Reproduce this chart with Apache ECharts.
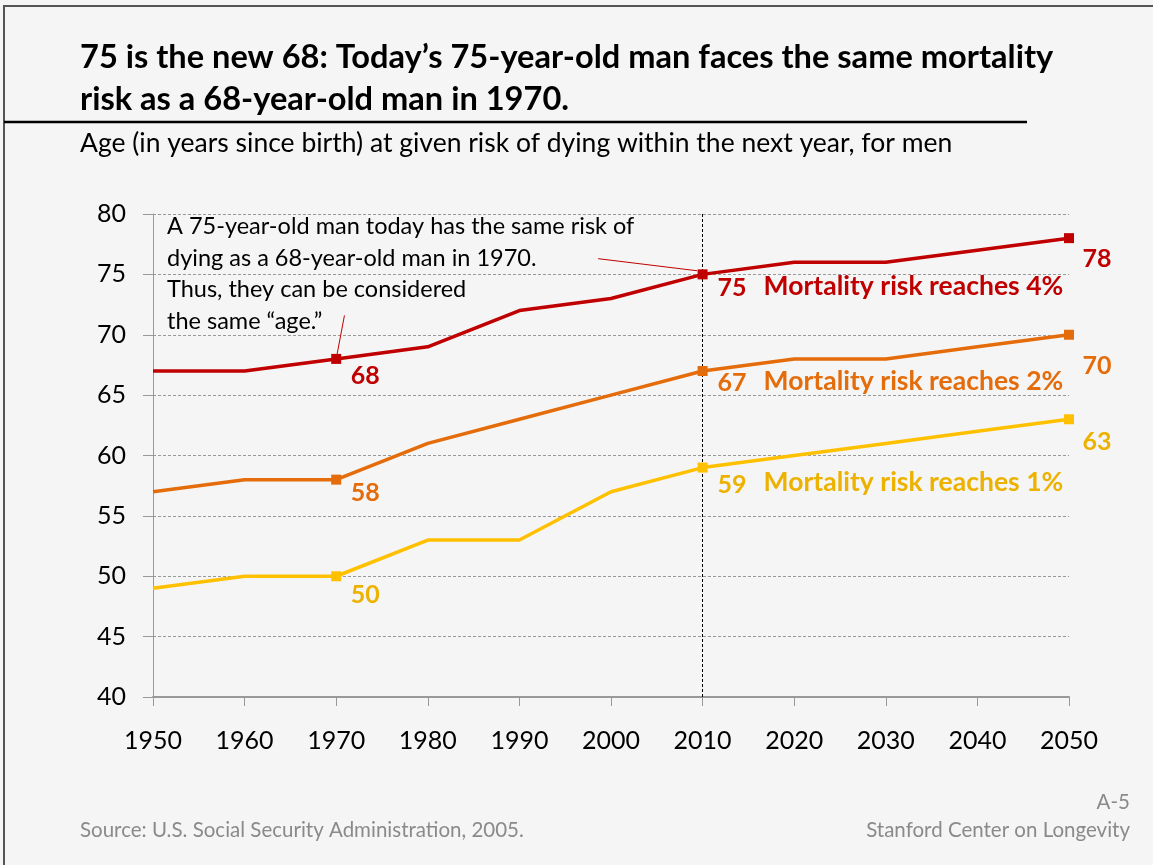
<!DOCTYPE html>
<html>
<head>
<meta charset="utf-8">
<script src="https://cdn.jsdelivr.net/npm/echarts@6/dist/echarts.min.js"></script>
<style>
  html, body { margin: 0; padding: 0; background: #f5f5f5; }
  #eChart { width: 1153px; height: 865px; }
</style>
</head>
<body>
<div id="eChart"></div>
<script>
var years = [1950, 1960, 1970, 1980, 1990, 2000, 2010, 2020, 2030, 2040, 2050];
var risk4 = [67, 67, 68, 69, 72, 73, 75, 76, 76, 77, 78];
var risk2 = [57, 58, 58, 61, 63, 65, 67, 68, 68, 69, 70];
var risk1 = [49, 50, 50, 53, 53, 57, 59, 60, 61, 62, 63];
var markedYears = [1970, 2010, 2050];
var seriesNames = ['Mortality risk reaches 4%', 'Mortality risk reaches 2%', 'Mortality risk reaches 1%'];
var noteLines = [
  'A 75-year-old man today has the same risk of',
  'dying as a 68-year-old man in 1970.',
  'Thus, they can be considered',
  'the same \u201cage.\u201d'
];
// pointer lines from the note, in data coordinates [year, age]
var pointerLines = [
  [[1998.6, 76.3], [2009.4, 75.3]],
  [[1970.9, 71.6], [1970.1, 68.4]]
];

var FONT = 'Lato, "Open Sans", sans-serif';
var lineColors = ['#C00000', '#E46C0A', '#FFC000'];
var textColors = ['#C00000', '#E46C0A', '#EDB200'];
// label offsets for the marked points: 1970, 2010, 2050
var labelOffsets = [
  [[29, 17], [5, 12], [28, 21]],
  [[29, 13], [5, 10], [28, 31]],
  [[29, 19], [5, 15], [28, 23]]
];

function buildData(values, s) {
  return years.map(function (yr, i) {
    var k = markedYears.indexOf(yr);
    if (k < 0) {
      return { value: [yr, values[i]], symbolSize: 0 };
    }
    var lbl;
    if (yr === 2010) {
      lbl = {
        show: true,
        position: 'right',
        offset: labelOffsets[s][k],
        formatter: '{v|' + values[i] + '}{n|' + seriesNames[s] + '}',
        rich: {
          v: { fontFamily: FONT, fontSize: 25, fontWeight: 'bold', color: textColors[s], padding: [4, 0, 0, 0] },
          n: { fontFamily: FONT, fontSize: 26.5, fontWeight: 'bold', color: textColors[s], padding: [0, 0, 0, 17] }
        }
      };
    } else {
      lbl = {
        show: true,
        position: 'inside',
        offset: labelOffsets[s][k],
        formatter: String(values[i]),
        fontFamily: FONT,
        fontSize: 25,
        fontWeight: 'bold',
        color: textColors[s]
      };
    }
    return { value: [yr, values[i]], symbolSize: 10, label: lbl };
  });
}

function drawChart() {
  var mainChart = echarts.init(document.getElementById('eChart'));

  var allValues = [risk4, risk2, risk1];
  var series = allValues.map(function (vals, s) {
    return {
      name: seriesNames[s],
      type: 'line',
      data: buildData(vals, s),
      symbol: 'rect',
      showAllSymbol: true,
      z: 10 - s,
      animation: false,
      lineStyle: { color: lineColors[s], width: 3.5 },
      itemStyle: { color: lineColors[s] }
    };
  });

  var markData = [
    [{ xAxis: 2010, yAxis: 80, lineStyle: { color: '#000', width: 1, type: [3, 2] } }, { xAxis: 2010, yAxis: 40 }]
  ];
  pointerLines.forEach(function (p) {
    markData.push([
      { coord: p[0], lineStyle: { color: '#C00000', width: 1, type: 'solid' } },
      { coord: p[1] }
    ]);
  });
  series[0].markLine = {
    silent: true,
    symbol: 'none',
    label: { show: false },
    animation: false,
    data: markData
  };

  var option = {
    backgroundColor: '#f5f5f5',
    animation: false,
    textStyle: { fontFamily: FONT },
    title: {
      text: '75 is the new 68: Today\u2019s 75-year-old man faces the same mortality\nrisk as a 68-year-old man in 1970.',
      left: 75,
      top: 31,
      textStyle: { fontFamily: FONT, fontSize: 32.6, fontWeight: 'bold', color: '#000', lineHeight: 42 }
    },
    grid: { left: 153, right: 84, top: 214, bottom: 168 },
    xAxis: {
      type: 'value',
      min: 1950,
      max: 2050,
      interval: 10,
      axisLine: { lineStyle: { color: '#999', width: 2 } },
      axisTick: { show: true, length: 9, lineStyle: { color: '#999' } },
      axisLabel: {
        color: '#000', fontSize: 25, margin: 31, fontFamily: FONT,
        formatter: function (v) { return String(v); }
      },
      splitLine: { show: false }
    },
    yAxis: {
      type: 'value',
      min: 40,
      max: 80,
      interval: 5,
      axisLine: { show: true, lineStyle: { color: '#999', width: 1 } },
      axisTick: { show: true, length: 10, lineStyle: { color: '#999' } },
      axisLabel: { color: '#000', fontSize: 25, margin: 27, fontFamily: FONT },
      splitLine: { show: true, lineStyle: { color: '#999', type: [3, 2], width: 1 } }
    },
    graphic: [
      {
        type: 'rect',
        shape: { x: 4, y: 6, width: 1170, height: 880 },
        style: { fill: 'none', stroke: '#555', lineWidth: 2 },
        silent: true
      },
      {
        type: 'line',
        shape: { x1: 4, y1: 122, x2: 1027, y2: 122 },
        style: { stroke: '#000', lineWidth: 2.5 },
        silent: true
      },
      {
        type: 'text',
        left: 80,
        top: 130,
        style: {
          text: 'Age (in years since birth) at given risk of dying within the next year, for men',
          font: '26.5px ' + FONT,
          fill: '#000'
        }
      },
      {
        type: 'text',
        left: 167,
        top: 211,
        style: {
          text: noteLines.join('\n'),
          font: '23.5px ' + FONT,
          lineHeight: 31.5,
          fill: '#000'
        }
      },
      {
        type: 'text',
        left: 80,
        top: 820,
        style: { text: 'Source: U.S. Social Security Administration, 2005.', font: '20.5px ' + FONT, fill: '#8a8a8a' }
      },
      {
        type: 'text',
        right: 23,
        top: 792,
        style: { text: 'A-5', font: '20.5px ' + FONT, fill: '#8a8a8a', align: 'right' }
      },
      {
        type: 'text',
        right: 23,
        top: 820,
        style: { text: 'Stanford Center on Longevity', font: '20.5px ' + FONT, fill: '#8a8a8a', align: 'right' }
      }
    ],
    series: series
  };

  mainChart.setOption(option);
}

drawChart();
</script>
</body>
</html>
